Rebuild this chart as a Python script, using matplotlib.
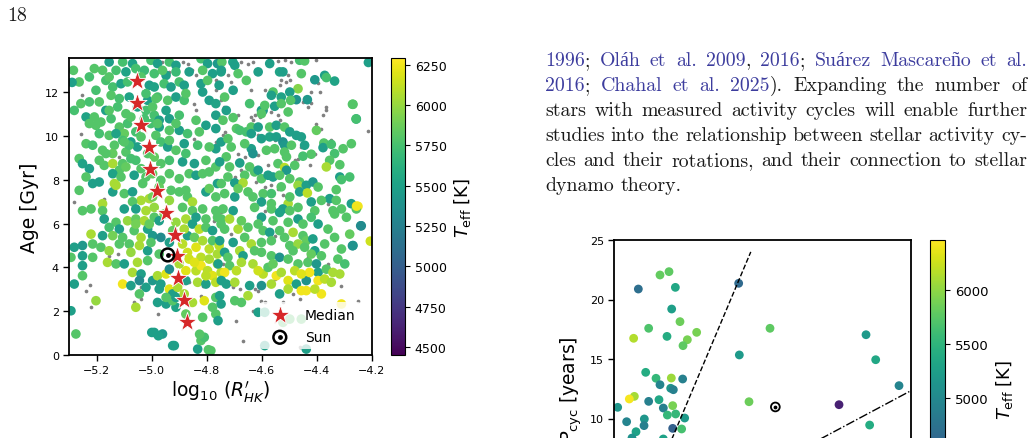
import numpy as np
import matplotlib
matplotlib.use("Agg")
import matplotlib.pyplot as plt

# ---- left panel: activity vs age, coloured by Teff ----
# (log10 R'HK, age [Gyr], Teff [K])
ul_pts = [
    (-5.155, 13.38, 5480), (-5.106, 13.38, 5750), (-5.070, 13.31, 5520), (-5.003, 13.46, 5750),
    (-4.979, 13.31, 5480), (-4.936, 13.38, 5750), (-4.912, 13.23, 5480), (-4.821, 13.53, 5750),
    (-4.797, 13.31, 5480), (-4.761, 13.31, 5430),
    (-5.209, 13.08, 5800), (-5.130, 13.00, 5750), (-5.094, 12.93, 5520), (-5.058, 13.08, 5750),
    (-5.027, 13.00, 5700), (-4.991, 12.85, 5750), (-4.948, 12.77, 5480), (-4.912, 12.93, 5700),
    (-4.864, 12.93, 5480), (-4.815, 13.00, 5800), (-4.779, 12.85, 5480), (-4.748, 12.93, 5520),
    (-5.264, 12.47, 5800), (-5.167, 12.54, 5750), (-5.142, 12.24, 5750), (-5.112, 12.39, 5520),
    (-5.088, 12.47, 5750), (-5.009, 12.32, 5480), (-4.991, 12.24, 5520), (-4.955, 12.39, 5750),
    (-4.930, 12.24, 5480), (-4.900, 12.47, 5750), (-4.882, 12.32, 5480), (-4.821, 12.39, 5480),
    (-4.797, 12.54, 5800), (-4.755, 12.32, 5480),
    (-5.203, 12.09, 5750), (-5.148, 11.86, 5800), (-5.118, 11.71, 5750), (-5.082, 11.78, 5520),
    (-5.015, 11.63, 5480), (-4.979, 11.78, 5750), (-4.942, 11.63, 5800), (-4.912, 11.78, 5480),
    (-4.882, 11.63, 5750), (-4.815, 12.01, 5480), (-4.791, 11.63, 5480), (-5.258, 11.48, 5800),
    (-5.227, 11.56, 5750), (-5.191, 11.56, 5800),
    (-5.282, 11.17, 5750), (-5.239, 10.87, 5520), (-5.209, 10.87, 5800), (-5.167, 11.17, 5480),
    (-5.124, 11.33, 5750), (-5.094, 11.02, 5800), (-5.021, 11.17, 5750), (-4.991, 10.95, 5750),
    (-4.936, 10.79, 5480), (-4.900, 10.95, 5750), (-4.839, 10.72, 5800), (-4.767, 10.95, 5480),
    (-5.185, 10.64, 5800), (-5.148, 10.79, 5750),
    (-5.203, 10.49, 5800), (-5.118, 10.41, 5800), (-5.088, 10.57, 5750), (-5.003, 10.57, 5750),
    (-4.973, 10.41, 5520), (-4.936, 10.26, 5800), (-4.900, 10.26, 5480), (-4.870, 10.11, 5750),
    (-4.803, 10.49, 5480), (-4.767, 10.34, 5480), (-5.155, 10.03, 5800), (-5.100, 10.11, 5850),
    (-5.058, 10.19, 5750), (-4.985, 10.03, 5800), (-4.973, 10.72, 5480),
    (-5.239, 9.65, 5800), (-5.215, 9.58, 5750), (-5.136, 9.58, 5800), (-5.106, 9.80, 5750),
    (-5.076, 9.73, 5520), (-5.052, 9.50, 5480), (-4.967, 9.73, 5750), (-4.942, 9.50, 5480),
    (-4.912, 9.35, 5800), (-4.882, 9.65, 5480), (-4.833, 9.58, 5750), (-4.767, 9.42, 5480),
    (-4.748, 9.73, 5480), (-5.179, 9.35, 5800), (-5.142, 9.20, 5850), (-5.094, 9.27, 5800),
    (-5.264, 8.97, 5800), (-5.252, 8.74, 5520), (-5.191, 8.89, 5800), (-5.173, 8.66, 5800),
    (-5.142, 8.74, 6050), (-5.106, 8.74, 5800), (-5.076, 8.97, 5750), (-5.039, 8.51, 5800),
    (-4.967, 8.74, 5800), (-4.936, 8.89, 5750), (-4.888, 8.82, 5480), (-4.845, 8.74, 5480),
    (-4.803, 8.89, 5800), (-4.767, 8.59, 5800), (-5.118, 8.44, 5800), (-5.227, 8.51, 5480),
    (-5.239, 8.13, 5800), (-5.215, 7.83, 5480), (-5.191, 7.90, 5480), (-5.142, 8.28, 5520),
    (-5.112, 8.13, 5800), (-5.064, 8.21, 5480), (-5.021, 8.13, 5800), (-4.967, 7.98, 5800),
    (-4.936, 8.28, 5800), (-4.900, 8.05, 5800), (-4.864, 8.28, 5800), (-4.839, 8.21, 5480),
    (-4.791, 8.36, 5800), (-4.761, 7.83, 5480), (-5.136, 7.83, 6050),
    (-5.264, 7.52, 5800), (-5.142, 7.45, 5480), (-5.130, 7.75, 6050), (-5.100, 7.37, 5800),
    (-5.070, 7.45, 5480), (-5.039, 7.06, 6050), (-5.009, 7.14, 6050), (-4.930, 7.52, 5800),
    (-4.900, 7.45, 5800), (-4.870, 7.22, 5800), (-4.852, 6.99, 6050), (-4.803, 7.45, 5480),
    (-4.767, 7.22, 5800), (-5.070, 7.00, 5800), (-5.179, 6.91, 6050),
    (-5.039, 12.70, 5800), (-5.021, 11.94, 5750), (-4.997, 11.33, 5800), (-5.052, 11.33, 5520),
    (-5.076, 10.87, 5800), (-5.027, 10.79, 5750), (-4.979, 10.57, 5800), (-5.039, 9.96, 5800),
    (-5.082, 9.58, 5750), (-5.015, 9.20, 5800), (-4.991, 9.04, 5850), (-5.058, 8.89, 5750),
    (-4.997, 8.28, 5850), (-5.033, 7.83, 5800), (-4.973, 7.67, 5850), (-4.936, 7.06, 6000),
    (-4.997, 7.22, 5900), (-5.100, 9.73, 5800), (-5.155, 11.17, 5800), (-5.191, 10.11, 5750),
    (-5.227, 10.57, 5800), (-5.130, 10.11, 5520), (-5.167, 9.20, 5800), (-5.094, 8.59, 5850),
    (-4.985, 11.71, 5800), (-4.948, 11.17, 5520), (-4.912, 10.57, 5800), (-4.936, 9.80, 5800),
    (-4.876, 9.20, 5750), (-4.827, 10.19, 5800), (-4.815, 8.28, 5800), (-4.791, 7.60, 5850),
    (-4.876, 7.52, 5800), (-5.155, 12.70, 5800), (-5.227, 12.70, 5750), (-5.179, 13.00, 5800),
    (-4.961, 13.00, 5800), (-4.876, 11.94, 5800), (-4.767, 11.48, 5520), (-4.791, 9.50, 5800),
]

ur_pts = [
    (-4.745, 13.38, 5800), (-4.705, 13.38, 5520), (-4.698, 13.23, 5480), (-4.571, 13.31, 5480),
    (-4.462, 13.46, 5750), (-4.444, 13.43, 5800), (-4.747, 13.00, 5480), (-4.656, 12.54, 5800),
    (-4.535, 12.93, 5520), (-4.523, 12.93, 5480), (-4.371, 12.77, 5480), (-4.365, 12.67, 5750),
    (-4.335, 12.51, 5520), (-4.407, 12.57, 5430), (-4.468, 12.16, 5950), (-4.704, 12.09, 5480),
    (-4.559, 12.01, 5800), (-4.565, 11.86, 5480), (-4.498, 12.01, 5480), (-4.529, 11.78, 5520),
    (-4.474, 11.66, 5380), (-4.495, 11.63, 5800), (-4.434, 11.66, 5430), (-4.268, 11.45, 5800),
    (-4.595, 11.17, 5430), (-4.601, 11.17, 5480), (-4.589, 11.40, 5800), (-4.553, 11.36, 5480),
    (-4.529, 11.48, 5800), (-4.504, 11.10, 5800), (-4.729, 11.17, 5480), (-4.704, 10.84, 5800),
    (-4.601, 11.02, 5800), (-4.256, 10.78, 5520), (-4.741, 10.72, 5800), (-4.692, 10.34, 5800),
    (-4.680, 10.26, 5750), (-4.656, 10.19, 5750), (-4.638, 10.41, 5800), (-4.613, 10.41, 5480),
    (-4.571, 10.41, 5800), (-4.547, 10.49, 5480), (-4.517, 10.41, 5800), (-4.498, 10.19, 5480),
    (-4.474, 10.03, 5480), (-4.401, 10.26, 5850), (-4.723, 9.88, 5800), (-4.638, 10.11, 5480),
    (-4.601, 9.88, 5480), (-4.571, 9.96, 5520), (-4.547, 9.96, 5480), (-4.456, 9.96, 5480),
    (-4.444, 9.58, 5480), (-4.523, 9.73, 5380), (-4.517, 9.58, 5430), (-4.492, 9.58, 5800),
    (-4.374, 9.68, 5800), (-4.377, 9.47, 5480), (-4.347, 9.62, 5750), (-4.304, 9.42, 5800),
    (-4.711, 9.50, 5800), (-4.638, 9.42, 5480), (-4.632, 9.20, 5380), (-4.583, 9.35, 5800),
    (-4.553, 9.42, 5800), (-4.517, 9.27, 5800), (-4.510, 9.05, 5800), (-4.420, 9.17, 5800),
    (-4.450, 9.08, 5750), (-4.335, 9.20, 5750), (-4.353, 8.89, 5800), (-4.365, 8.59, 6050),
    (-4.316, 8.69, 5800), (-4.729, 9.05, 5800), (-4.753, 8.82, 5480), (-4.717, 8.59, 5800),
    (-4.680, 8.77, 5480), (-4.644, 8.59, 5800), (-4.626, 8.36, 5800), (-4.613, 8.44, 5480),
    (-4.541, 8.74, 5800), (-4.517, 8.56, 6100), (-4.510, 8.44, 5430), (-4.480, 8.66, 5800),
    (-4.723, 8.13, 5800), (-4.662, 8.21, 5800), (-4.601, 8.05, 5800), (-4.577, 8.21, 5480),
    (-4.559, 8.13, 5480), (-4.535, 8.21, 5800), (-4.498, 8.05, 5800), (-4.462, 7.90, 5800),
    (-4.468, 7.75, 6000), (-4.438, 7.75, 5480), (-4.414, 7.90, 5430), (-4.316, 8.13, 5480),
    (-4.310, 8.01, 5750), (-4.329, 7.55, 5800), (-4.747, 7.83, 5800), (-4.698, 7.86, 5480),
    (-4.668, 7.86, 6050), (-4.650, 7.45, 5800), (-4.595, 7.37, 5800), (-4.565, 7.37, 5750),
    (-4.529, 7.68, 5800), (-4.504, 6.91, 6050), (-4.498, 7.22, 5800), (-4.462, 7.45, 5480),
    (-4.434, 7.40, 6100), (-4.420, 6.99, 5480), (-4.353, 7.14, 5480), (-4.383, 7.06, 5800),
    (-4.698, 7.22, 5480), (-4.735, 7.37, 5800), (-4.601, 6.99, 5480), (-4.565, 6.91, 5800),
    (-4.274, 6.91, 5480), (-4.250, 6.79, 6250), (-4.329, 7.06, 5800), (-4.632, 7.22, 5800),
    (-4.686, 12.85, 5800), (-4.613, 12.93, 5480), (-4.456, 12.85, 5800), (-4.735, 11.78, 5800),
    (-4.644, 11.48, 5750), (-4.662, 9.65, 5800), (-4.686, 7.60, 5850), (-4.395, 7.67, 5800),
    (-4.280, 8.13, 5750), (-4.274, 9.65, 5800),
]

ll_pts = [
    (-5.252, 6.59, 5800), (-5.221, 6.67, 5800), (-5.179, 6.59, 5800), (-5.100, 6.67, 5480),
    (-5.058, 6.67, 5480), (-5.021, 6.59, 6050), (-4.991, 6.74, 6000), (-4.888, 6.74, 5800),
    (-4.852, 6.59, 5800), (-4.815, 6.67, 5800), (-4.767, 6.59, 5800), (-5.173, 6.21, 5480),
    (-5.130, 6.06, 5800), (-5.088, 6.13, 6000), (-5.058, 6.21, 5850), (-5.027, 6.13, 6050),
    (-4.991, 6.29, 5800), (-4.973, 6.13, 5480), (-4.876, 6.21, 6050), (-4.839, 6.29, 5480),
    (-4.803, 6.21, 5800), (-4.761, 6.29, 5800), (-5.155, 5.83, 5750), (-5.118, 5.75, 5480),
    (-5.106, 5.37, 5800), (-5.064, 5.68, 5800), (-5.039, 5.37, 6050), (-5.015, 5.75, 5520),
    (-4.997, 5.45, 5430), (-4.967, 5.37, 5330), (-4.936, 5.14, 5480), (-4.870, 5.45, 5480),
    (-4.852, 5.98, 5480), (-4.827, 5.75, 6100), (-4.803, 5.83, 5800), (-4.779, 5.68, 5480),
    (-4.748, 5.98, 5800), (-5.221, 5.52, 6050), (-5.179, 5.45, 5480), (-5.252, 5.00, 5430),
    (-5.185, 4.92, 5800), (-5.155, 4.76, 6000), (-5.082, 5.07, 5800), (-5.045, 5.00, 6050),
    (-5.015, 4.76, 5480), (-4.973, 4.61, 5800), (-4.888, 5.07, 6100), (-4.870, 4.68, 6150),
    (-4.839, 4.92, 6200), (-4.821, 4.46, 6100), (-4.791, 4.84, 6100), (-4.761, 4.61, 6050),
    (-5.252, 4.53, 5480), (-5.294, 4.46, 5800), (-5.215, 4.46, 5800), (-5.161, 4.23, 6050),
    (-5.130, 4.16, 5800), (-5.100, 4.16, 5480), (-5.052, 4.23, 6050), (-5.015, 4.31, 5800),
    (-5.070, 3.77, 6050), (-5.039, 3.70, 5480), (-4.997, 3.40, 5430), (-4.979, 3.62, 6050),
    (-4.948, 3.70, 6200), (-4.936, 3.92, 5330), (-4.967, 3.24, 5480), (-4.936, 3.01, 6200),
    (-4.924, 2.79, 5480), (-4.876, 3.40, 5480), (-4.839, 3.85, 6100), (-4.821, 4.08, 6250),
    (-4.797, 3.85, 6100), (-4.779, 3.62, 6200), (-4.748, 3.77, 6100), (-4.833, 3.32, 6050),
    (-4.803, 3.24, 5480), (-4.767, 3.32, 6100), (-5.252, 4.08, 5480), (-5.252, 3.62, 5800),
    (-5.282, 3.24, 5480), (-5.106, 3.24, 6250), (-5.076, 3.17, 5480), (-5.045, 3.40, 5330),
    (-5.021, 3.09, 5480), (-5.203, 2.48, 6000), (-5.045, 2.79, 5800), (-4.979, 2.40, 5480),
    (-4.948, 2.33, 5480), (-4.912, 2.18, 5520), (-4.924, 2.48, 5800), (-5.058, 2.18, 6050),
    (-4.852, 2.40, 6050), (-4.809, 2.48, 6200), (-4.767, 2.63, 5800), (-4.748, 2.33, 5480),
    (-4.779, 2.18, 5800), (-5.294, 2.02, 5480), (-4.876, 1.87, 5850), (-4.815, 1.72, 5800),
    (-4.767, 1.87, 5800), (-5.276, 0.96, 5800), (-4.991, 1.03, 5480), (-4.961, 0.96, 5430),
    (-4.918, 0.43, 5480), (-4.833, 0.27, 5480), (-4.821, 0.66, 5800), (-4.809, 0.81, 5750),
    (-4.785, 0.20, 5800), (-4.973, 3.01, 5480), (-4.906, 3.09, 6050),
    (-4.955, 6.44, 5900), (-4.912, 6.06, 6000), (-4.924, 5.68, 5850), (-4.882, 5.75, 6050),
    (-4.845, 5.37, 5850), (-4.815, 5.22, 6050), (-4.779, 5.22, 5800), (-4.755, 5.00, 6100),
    (-4.864, 4.38, 6150), (-4.845, 4.23, 6200), (-4.791, 4.38, 6050), (-4.761, 4.16, 6150),
    (-4.803, 3.62, 6100), (-4.876, 3.85, 6200), (-4.900, 4.16, 6050), (-4.912, 2.63, 5480),
    (-4.882, 2.79, 6050), (-4.948, 2.63, 5800), (-5.009, 5.98, 5850), (-5.118, 5.07, 5800),
    (-5.142, 5.45, 5900), (-5.076, 4.69, 6000), (-5.003, 5.14, 5800), (-5.058, 5.98, 5900),
    (-5.215, 5.07, 5800), (-5.282, 4.92, 5480),
]

lr_pts = [
    (-4.741, 6.67, 5800), (-4.704, 6.59, 5480), (-4.626, 6.74, 5800), (-4.565, 6.67, 5800),
    (-4.523, 6.67, 5480), (-4.498, 6.59, 5800), (-4.468, 6.74, 5800), (-4.407, 6.59, 5800),
    (-4.341, 6.59, 5800), (-4.310, 6.67, 5800), (-4.256, 6.67, 5800), (-4.747, 6.21, 5800),
    (-4.717, 6.21, 6050), (-4.601, 6.29, 5480), (-4.535, 6.51, 5520), (-4.559, 6.13, 5800),
    (-4.468, 6.21, 5480), (-4.450, 5.98, 5800), (-4.395, 5.98, 5480), (-4.335, 6.44, 5800),
    (-4.238, 5.90, 5330), (-4.735, 5.75, 5800), (-4.686, 5.75, 6050), (-4.650, 5.83, 5800),
    (-4.595, 5.68, 5800), (-4.571, 5.60, 5480), (-4.535, 5.68, 5800), (-4.517, 5.37, 5800),
    (-4.486, 5.60, 6050), (-4.450, 5.45, 5800), (-4.438, 5.22, 5850), (-4.414, 5.30, 5480),
    (-4.335, 5.37, 5800), (-4.268, 5.00, 5380), (-4.753, 5.22, 5480), (-4.704, 5.14, 5480),
    (-4.662, 5.37, 5800), (-4.638, 5.07, 6050), (-4.601, 5.14, 5800), (-4.565, 5.22, 5800),
    (-4.498, 5.00, 5800), (-4.468, 5.07, 6000), (-4.444, 4.92, 5800), (-4.407, 4.76, 5480),
    (-4.383, 4.53, 5800), (-4.310, 4.84, 5800), (-4.735, 4.69, 5480), (-4.680, 4.76, 6050),
    (-4.668, 4.53, 5480), (-4.601, 4.69, 5800), (-4.565, 4.53, 5800), (-4.535, 4.46, 5380),
    (-4.504, 4.38, 5800), (-4.468, 4.16, 5800), (-4.432, 4.23, 5800), (-4.401, 4.16, 5430),
    (-4.395, 3.77, 5480), (-4.365, 3.92, 5800), (-4.323, 4.38, 5800), (-4.341, 3.77, 6050),
    (-4.316, 3.70, 6050), (-4.759, 4.16, 5480), (-4.717, 4.08, 5800), (-4.735, 3.77, 6250),
    (-4.692, 3.85, 6100), (-4.632, 4.16, 6050), (-4.595, 3.70, 6100), (-4.577, 4.00, 5800),
    (-4.547, 3.62, 6250), (-4.529, 3.77, 6050), (-4.504, 3.40, 6200), (-4.474, 3.24, 5480),
    (-4.438, 3.40, 5380), (-4.426, 3.77, 6250), (-4.395, 3.40, 6250), (-4.371, 3.47, 6100),
    (-4.347, 3.32, 6050), (-4.747, 3.40, 5480), (-4.729, 3.24, 5480), (-4.698, 3.32, 6050),
    (-4.644, 3.17, 5480), (-4.601, 3.17, 5380), (-4.565, 3.24, 6050), (-4.535, 2.79, 5480),
    (-4.504, 3.01, 6050), (-4.456, 2.94, 6250), (-4.438, 2.94, 6250), (-4.383, 2.79, 6250),
    (-4.407, 3.01, 6100), (-4.753, 2.71, 5480), (-4.698, 2.48, 5800), (-4.674, 2.40, 5800),
    (-4.650, 2.71, 6050), (-4.759, 1.57, 5480), (-4.613, 1.95, 5480), (-4.589, 1.95, 5600),
    (-4.523, 1.49, 5800), (-4.498, 1.64, 5800), (-4.456, 1.64, 5800), (-4.310, 2.33, 6250),
    (-4.589, 0.43, 5480), (-4.438, 0.27, 5480),
    (-4.723, 4.46, 5800), (-4.674, 4.23, 6050), (-4.626, 4.76, 5800), (-4.613, 3.85, 6150),
    (-4.559, 4.16, 5850), (-4.480, 3.85, 6100), (-4.456, 3.70, 6200), (-4.486, 4.76, 5800),
    (-4.420, 4.61, 5850), (-4.371, 5.07, 5800), (-4.298, 4.16, 5750), (-4.359, 5.75, 5800),
    (-4.280, 5.52, 5850), (-4.613, 5.98, 5800), (-4.674, 6.13, 5850), (-4.504, 6.06, 5800),
    (-4.420, 6.29, 5750), (-4.292, 6.29, 5800),
]

edge_pts = [
    (-5.290, 12.45, 5480), (-5.285, 13.00, 5800), (-4.212, 13.36, 5480), (-4.257, 10.78, 5750),
    (-4.270, 11.45, 5800), (-4.240, 5.90, 5330), (-4.270, 4.99, 5380), (-4.205, 5.20, 6150),
    (-4.255, 6.80, 6250), (-5.000, 1.03, 5480), (-4.976, 0.88, 5480), (-4.924, 0.43, 5480),
    (-4.794, 0.24, 5800), (-4.826, 0.95, 5800),
]

# stars without a Teff (small grey dots)
gray_pts = [
    (-4.747, 13.38), (-4.674, 13.38), (-4.650, 13.31), (-4.632, 13.38), (-4.541, 13.43),
    (-4.517, 13.46), (-4.492, 13.38), (-4.401, 13.46), (-4.723, 12.77), (-4.711, 12.47),
    (-4.638, 12.09), (-4.589, 12.09), (-4.529, 12.54), (-4.510, 12.47), (-4.498, 12.54),
    (-4.504, 12.77), (-4.535, 12.32), (-4.395, 12.42), (-4.420, 12.01), (-4.389, 12.01),
    (-4.747, 11.66), (-4.474, 12.09), (-4.450, 11.56), (-4.432, 11.33), (-4.420, 11.51),
    (-4.365, 11.33), (-4.365, 11.17), (-4.747, 10.87), (-4.686, 10.95), (-4.638, 10.87),
    (-4.626, 10.95), (-4.607, 10.87), (-4.565, 11.10), (-4.541, 10.95), (-4.535, 10.72),
    (-4.632, 10.72), (-4.517, 10.41), (-4.510, 10.34), (-4.492, 10.34), (-4.735, 10.19),
    (-4.698, 10.26), (-4.741, 10.03), (-4.613, 10.03), (-4.553, 9.80), (-4.377, 10.95),
    (-4.401, 10.57), (-4.383, 10.34), (-4.214, 10.23), (-4.468, 8.97), (-4.480, 8.89),
    (-4.686, 9.20), (-4.662, 9.05), (-4.613, 9.12), (-4.577, 8.66), (-4.426, 8.66),
    (-4.407, 9.20), (-4.456, 9.50), (-4.347, 9.80), (-4.674, 8.44), (-4.541, 7.60),
    (-4.565, 7.75), (-4.589, 7.67), (-4.523, 7.29), (-4.492, 7.29), (-4.698, 8.13),
    (-4.620, 7.90), (-4.359, 6.91),
    (-4.961, 13.38), (-4.888, 13.38), (-4.870, 13.31), (-4.936, 12.93), (-4.852, 13.00),
    (-4.839, 12.77), (-4.767, 12.54), (-4.767, 12.09), (-5.282, 12.47), (-5.252, 11.86),
    (-4.845, 11.48), (-4.736, 11.33), (-5.258, 10.11), (-4.845, 9.88), (-5.282, 6.99),
    (-5.173, 7.14), (-4.839, 11.17), (-4.803, 10.57), (-4.767, 9.73), (-5.118, 9.05),
    (-5.155, 4.53), (-5.124, 4.61), (-5.252, 3.55), (-5.225, 3.20), (-5.239, 2.94),
    (-5.221, 2.21), (-5.294, 3.24), (-5.064, 2.40), (-5.039, 2.56), (-5.039, 3.12),
    (-4.979, 1.87), (-4.864, 3.32), (-4.815, 3.17), (-4.821, 2.71), (-4.773, 6.13),
    (-4.748, 6.51),
    (-4.735, 6.74), (-4.589, 6.59), (-4.711, 5.52), (-4.553, 5.45), (-4.741, 4.16),
    (-4.711, 3.24), (-4.704, 3.09), (-4.680, 3.01), (-4.626, 3.01), (-4.613, 2.94),
    (-4.553, 3.47), (-4.486, 2.79), (-4.462, 2.56), (-4.601, 2.48), (-4.589, 2.40),
    (-4.632, 2.02), (-4.692, 1.57), (-4.668, 0.66), (-4.462, 0.35), (-4.310, 3.17),
    (-4.250, 2.48), (-4.523, 2.40), (-4.432, 4.46), (-4.359, 4.16),
]

# medians of log R'HK in 1-Gyr age bins
median_age = [12.5, 11.5, 10.5, 9.5, 8.5, 7.5, 6.5, 5.5, 4.5, 3.5, 2.5, 1.5]
median_logr = [-5.055, -5.053, -5.038, -5.010, -5.006, -4.982, -4.949, -4.914,
               -4.907, -4.906, -4.884, -4.873]

sun_logr, sun_age = -4.942, 4.57

# ---- right panel: cycle period, coloured by Teff ----
# (x, Pcyc [years], Teff [K])
cyc_pts = [
    (0.57, 10.94, 5150), (4.05, 20.88, 4700), (7.70, 22.06, 5800), (9.22, 22.34, 5780),
    (10.29, 21.02, 5350), (9.67, 19.20, 5250), (11.07, 18.14, 5850), (5.79, 17.58, 5700),
    (8.88, 16.90, 5400), (3.26, 16.74, 6150), (13.88, 17.24, 5900), (12.31, 16.62, 5900),
    (11.58, 16.12, 5780), (5.29, 13.88, 5400), (7.03, 13.38, 5550), (7.70, 12.84, 4950),
    (11.52, 13.32, 4900), (9.61, 13.40, 6050), (9.50, 12.54, 5150), (9.95, 12.42, 4900),
    (3.38, 11.86, 6100), (2.53, 11.64, 6430), (5.79, 11.44, 4900), (7.53, 11.58, 5350),
    (8.26, 10.88, 4900), (9.84, 11.08, 5900), (8.94, 10.29, 5550), (10.34, 10.38, 5550),
    (11.86, 10.04, 5200), (2.08, 9.73, 4950), (5.06, 9.96, 5150), (5.01, 9.40, 4900),
    (3.66, 8.89, 5300), (9.84, 9.17, 4550), (11.35, 9.12, 5650), (20.96, 21.36, 4650),
    (21.07, 15.34, 5200), (26.24, 17.58, 5780), (22.70, 11.41, 5850), (37.87, 11.16, 3950),
    (42.42, 17.04, 5200), (44.05, 14.94, 5350), (47.98, 12.76, 4950), (43.03, 9.45, 5400),
    (8.26, 8.28, 5300), (2.98, 8.36, 5100),
]
sun_x, sun_pcyc = 27.14, 10.97
dashed_x, dashed_y = [2.7, 23.0], [0.0, 24.0]
dashdot_x, dashdot_y = [20.0, 50.0], [4.36, 12.34]

page_number = "18"
# {...} marks citation (blue) text
para_lines = [
    "{1996}; {Oláh et al. 2009}, {2016}; {Suárez Mascareño et al.}",
    "{2016}; {Chahal et al. 2025}).  Expanding the number of",
    "stars with measured activity cycles will enable further",
    "studies into the relationship between stellar activity cy-",
    "cles and their rotations, and their connection to stellar",
    "dynamo theory.",
]

W, H = 1035, 439
fig = plt.figure(figsize=(W / 100, H / 100), dpi=100)
plt.rcParams['axes.linewidth'] = 1.3


def px_box(x0, y0, x1, y1):
    return [x0 / W, 1 - y1 / H, (x1 - x0) / W, (y1 - y0) / H]


# left scatter
ax = fig.add_axes(px_box(69.3, 59.3, 371.7, 356.0))
pts = ul_pts + ur_pts + ll_pts + lr_pts + edge_pts
lx, ly, lt = (np.array(v) for v in zip(*pts))
gx, gy = (np.array(v) for v in zip(*gray_pts))
ax.scatter(gx, gy, s=7, c='#808080', linewidths=0, zorder=1)
sc = ax.scatter(lx, ly, c=lt, cmap='viridis', vmin=4450, vmax=6290, s=48,
                linewidths=0, zorder=2)
hm = ax.scatter(median_logr, median_age, marker='*', s=210, c='#d62728',
                edgecolors='white', linewidths=0.6, zorder=4, label='Median')
s1 = ax.scatter([sun_logr], [sun_age], s=85, facecolors='none', edgecolors='black',
                linewidths=1.8, zorder=5)
s2 = ax.scatter([sun_logr], [sun_age], s=6, c='black', zorder=5)
ax.set_xlim(-5.3, -4.2)
ax.set_ylim(0, 13.55)
ax.set_xticks([-5.2, -5.0, -4.8, -4.6, -4.4, -4.2])
ax.set_yticks([0, 2, 4, 6, 8, 10, 12])
ax.tick_params(labelsize=8, width=1.0, length=4)
ax.set_xlabel(r'$\log_{10}\,(R^{\prime}_{HK})$', fontsize=13.5, labelpad=2)
ax.set_ylabel('Age [Gyr]', fontsize=13.5, labelpad=4)
leg = ax.legend([hm, (s1, s2)], ['Median', 'Sun'], loc='lower right',
                bbox_to_anchor=(0.983, 0.0), fontsize=10,
                frameon=True, framealpha=0.8, edgecolor='none', borderaxespad=0.4,
                handletextpad=0.8, labelspacing=0.6)

cax = fig.add_axes(px_box(390.7, 59.3, 405.0, 356.0))
cb = fig.colorbar(sc, cax=cax)
cb.set_ticks([4500, 4750, 5000, 5250, 5500, 5750, 6000, 6250])
cb.ax.tick_params(labelsize=9, length=3.5)
cb.outline.set_linewidth(0.8)
cb.set_label(r'$T_{\rm eff}$ [K]', fontsize=13)

# right scatter (cut by the page edge)
ax2 = fig.add_axes(px_box(614.3, 241.0, 911.0, 538.5))
cx, cy, ct = (np.array(v) for v in zip(*cyc_pts))
sc2 = ax2.scatter(cx, cy, c=ct, cmap='viridis', vmin=3700, vmax=6470, s=40, linewidths=0)
ax2.plot(dashed_x, dashed_y, 'k--', lw=1.0)
ax2.plot(dashdot_x, dashdot_y, 'k-.', lw=1.0)
ax2.scatter([sun_x], [sun_pcyc], s=40, facecolors='none', edgecolors='black', linewidths=1.3)
ax2.scatter([sun_x], [sun_pcyc], s=3, c='black')
ax2.set_xlim(0, 50)
ax2.set_ylim(0, 25)
ax2.set_yticks([10, 15, 20, 25])
ax2.tick_params(labelsize=8, width=1.0, length=4, labelbottom=False, bottom=False)
ax2.set_ylabel(r'$P_{\rm cyc}$ [years]', fontsize=13.5, labelpad=4)

cax2 = fig.add_axes(px_box(930.0, 241.0, 945.0, 538.5))
cb2 = fig.colorbar(sc2, cax=cax2)
cb2.set_ticks([5000, 5500, 6000])
cb2.ax.tick_params(labelsize=9.5, length=3.5)
cb2.outline.set_linewidth(0.8)
cb2.set_label(r'$T_{\rm eff}$ [K]', fontsize=13)

# page text
serif = ['cmr10', 'Liberation Serif']
blue, black = '#3d3d9e', '#1a1a1a'
fs = 14.3
fig.text(7 / W, 1 - 21 / H, page_number, fontsize=fs, family=serif, color=black, va='baseline')

renderer = fig.canvas.get_renderer()


def parse_words(line):
    words, cur, col = [], [], black
    seg = ''
    for ch in line:
        if ch in '{}':
            if seg:
                cur.append((seg, col))
            seg = ''
            col = blue if ch == '{' else black
        elif ch == ' ':
            if seg:
                cur.append((seg, col))
            seg = ''
            if cur:
                words.append(cur)
            cur = []
        else:
            seg += ch
    if seg:
        cur.append((seg, col))
    if cur:
        words.append(cur)
    return words


def text_width(s):
    t = fig.text(0, 0, s, fontsize=fs, family=serif)
    w = t.get_window_extent(renderer).width
    t.remove()
    return w


x_left, x_right, base0, step = 545.0, 1027.0, 66.0, 25.0
space = text_width('a b') - text_width('ab')
for i, line in enumerate(para_lines):
    words = parse_words(line)
    widths = [[text_width(s) for s, c in w] for w in words]
    total = sum(sum(ws) for ws in widths)
    last = i == len(para_lines) - 1
    gap = space if last else (x_right - x_left - total) / (len(words) - 1)
    x = x_left
    yb = base0 + i * step
    for w, ws in zip(words, widths):
        for (s, c), sw in zip(w, ws):
            fig.text(x / W, 1 - yb / H, s, fontsize=fs, family=serif, color=c, va='baseline')
            x += sw
        x += gap

fig.savefig('out.png', dpi=100)
